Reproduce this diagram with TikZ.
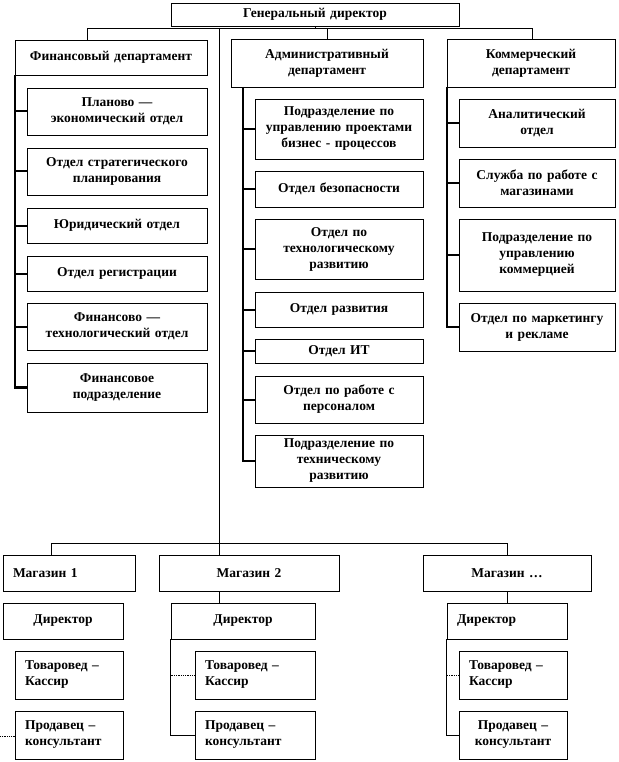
\documentclass[tikz,border=0pt]{standalone}
\usepackage{fontspec}
\setmainfont{Liberation Serif}
\newcommand\bx[7][]{%
  \pgfmathsetmacro\bxcx{(#3+#5)/2}\pgfmathsetmacro\bxcy{(#4+#6)/2}%
  \pgfmathsetmacro\bxw{#5-#3}\pgfmathsetmacro\bxh{#6-#4}%
  \pgfmathsetmacro\bxt{#5-#3-8}\pgfmathsetmacro\bxl{#5-#3-20}%
  \node[box,minimum width=\bxw pt,minimum height=\bxh pt,text width=\bxt pt,#1] (#2) at (\bxcx,\bxcy) {#7};}
\tikzset{
  box/.style={draw=black,line width=0.8pt,fill=white,inner sep=0pt,align=center,
    font=\fontsize{13.5}{16}\selectfont\bfseries},
  lft/.style={align=left,text width=\bxl pt},
  conn/.style={draw=black,line width=0.8pt},
  bus/.style={draw=black,line width=2.2pt},
  tick/.style={draw=black,line width=2pt},
}
\begin{document}
\begin{tikzpicture}[x=1pt,y=-1pt]
\useasboundingbox (0,0) rectangle (618,762);
% top level
\bx{gd}{171}{3}{459}{26}{Генеральный директор}
\bx{fin}{15}{40}{207}{75}{Финансовый департамент}
\bx{adm}{231}{39}{423}{87}{Административный\\департамент}
\bx{com}{447}{39}{615}{87}{Коммерческий\\департамент}
% finance children
\bx{f1}{27}{88}{207}{135}{Планово —\\экономический отдел}
\bx{f2}{27}{148}{207}{195}{Отдел стратегического\\планирования}
\bx{f3}{27}{208}{207}{243}{Юридический отдел}
\bx{f4}{27}{256}{207}{291}{Отдел регистрации}
\bx{f5}{27}{303}{207}{350}{Финансово —\\технологический отдел}
\bx{f6}{27}{363}{207}{412}{Финансовое\\подразделение}
% admin children
\bx{a1}{255}{99}{423}{159}{Подразделение по\\управлению проектами\\бизнес - процессов}
\bx{a2}{255}{171}{423}{207}{Отдел безопасности}
\bx{a3}{255}{219}{423}{279}{Отдел по\\технологическому\\развитию}
\bx{a4}{255}{292}{423}{327}{Отдел развития}
\bx{a5}{255}{339}{423}{363}{Отдел ИТ}
\bx{a6}{255}{376}{423}{423}{Отдел по работе с\\персоналом}
\bx{a7}{255}{435}{423}{487}{Подразделение по\\техническому\\развитию}
% commerce children
\bx{c1}{459}{99}{615}{147}{Аналитический\\отдел}
\bx{c2}{459}{159}{615}{207}{Служба по работе с\\магазинами}
\bx{c3}{459}{219}{615}{291}{Подразделение по\\управлению\\коммерцией}
\bx{c4}{459}{303}{615}{351}{Отдел по маркетингу\\и рекламе}
% stores
\bx[lft]{m1}{3}{555}{135}{591}{Магазин 1}
\bx{m2}{159}{555}{339}{591}{Магазин 2}
\bx{m3}{423}{555}{591}{591}{Магазин …}
\bx{d1}{3}{603}{123}{639}{Директор}
\bx[lft]{t1}{15}{651}{123}{699}{Товаровед –\\Кассир}
\bx[lft]{p1}{15}{711}{123}{759}{Продавец –\\консультант}
\bx{d2}{171}{603}{315}{639}{Директор}
\bx[lft]{t2}{195}{651}{315}{699}{Товаровед –\\Кассир}
\bx[lft]{p2}{195}{711}{315}{759}{Продавец –\\консультант}
\bx[lft]{d3}{447}{603}{567}{639}{Директор}
\bx[lft]{t3}{459}{651}{567}{699}{Товаровед –\\Кассир}
\bx{p3}{459}{711}{567}{759}{Продавец –\\консультант}
% top connectors
\coordinate (busL) at (87,28);
\coordinate (busR) at (532,28);
\coordinate (trunk) at (219,28);
\draw[conn] (gd.south) -- (gd.south |- busL);
\draw[conn] (fin.north -| busL) -- (busL) -- (busR) -- (com.north -| busR);
\draw[conn] (adm.north) -- (adm.north |- busL);
% finance bracket
\draw[bus] (fin.south west) |- (f6.west);
\foreach \n in {f1,f2,f3,f4,f5} \draw[tick] (\n.west) -- (\n.west -| fin.south west);
% admin bracket
\coordinate (ab) at (243,87);
\draw[bus] (ab) |- (a7.west);
\foreach \n in {a1,a2,a3,a4,a5,a6} \draw[tick] (\n.west) -- (\n.west -| ab);
% commerce bracket
\draw[bus] (com.south west) |- (c4.west);
\foreach \n in {c1,c2,c3} \draw[tick] (\n.west) -- (\n.west -| com.south west);
% stores
\coordinate (s1) at (51,543);
\draw[conn] (trunk) -- (m2.north -| trunk);
\draw[conn] (m1.north -| s1) -- (s1) -- (m3.north |- s1) -- (m3.north);
\draw[conn] (m2.south -| trunk) -- (d2.north -| trunk);
\draw[conn] (d2.south west) |- (p2.west);
\draw[conn,densely dotted] (t2.west) -- (t2.west -| d2.south west);
\draw[conn] (m3.south) -- (d3.north);
\draw[conn] (d3.south west) |- (p3.west);
\draw[conn,densely dotted] (t3.west) -- (t3.west -| d3.south west);
\coordinate (s1l) at (0,736);
\draw[conn,densely dotted] (s1l) -- (p1.west |- s1l);
\end{tikzpicture}
\end{document}
